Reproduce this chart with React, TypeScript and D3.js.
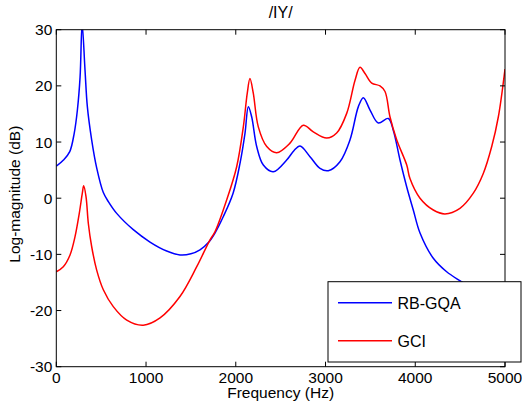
import * as d3 from 'd3';

// spectral envelopes of the vowel /IY/ (frequency in Hz, level in dB)
const freqBlue = [0, 80, 150, 200, 235, 265, 288, 320, 346, 394, 450, 524, 580, 673, 858, 1044, 1230, 1378, 1500, 1601, 1700, 1768, 1860, 1970, 2047, 2103, 2140, 2177, 2233, 2307, 2418, 2567, 2650, 2716, 2827, 2939, 3031, 3161, 3273, 3366, 3421, 3496, 3588, 3700, 3755, 3830, 3905, 3978, 4053, 4201, 4350, 4518, 4700, 4850, 5000];
const dbBlue = [5.7, 6.8, 8.3, 11.6, 15.7, 21.6, 31, 22.8, 16.3, 10.4, 5.4, 1.0, -0.6, -2.7, -5.6, -7.8, -9.4, -10.1, -9.9, -9.2, -7.8, -6.2, -3.3, 0.9, 6.2, 11.6, 16.3, 14.5, 9.2, 5.9, 4.7, 6.8, 8.5, 9.3, 7.4, 5.3, 4.9, 6.5, 10.4, 16.3, 17.9, 15.7, 13.4, 14.2, 12.1, 6.8, 2.0, -2.1, -6.2, -10.7, -13.1, -14.9, -16.8, -18.0, -19.0];

const freqRed = [0, 78, 153, 208, 256, 290, 305, 331, 357, 394, 450, 524, 635, 785, 969, 1156, 1378, 1565, 1713, 1768, 1899, 2010, 2084, 2128, 2158, 2195, 2251, 2345, 2456, 2604, 2752, 2864, 3013, 3124, 3236, 3329, 3384, 3440, 3515, 3607, 3663, 3718, 3793, 3905, 3941, 4053, 4201, 4331, 4498, 4647, 4758, 4852, 4926, 5000];
const dbRed = [-13.1, -12.2, -10.1, -6.9, -2.7, 0.9, 2.2, 0.3, -4.5, -8.6, -12.8, -16.3, -19.3, -21.7, -22.6, -21.3, -17.5, -12.2, -7.4, -6.0, -0.3, 5.6, 12.7, 18.7, 21.3, 18.7, 12.7, 9.2, 8.1, 9.8, 13.0, 11.8, 10.7, 11.6, 15.1, 21.0, 23.3, 22.2, 20.5, 20.0, 19.0, 14.5, 10.4, 5.9, 3.5, 0.0, -2.1, -2.8, -1.8, 0.9, 4.4, 9.2, 14.5, 23.0];

const xTicks = [0, 1000, 2000, 3000, 4000, 5000];
const yTicks = [-30, -20, -10, 0, 10, 20, 30];
const seriesNames = ['RB-GQA', 'GCI'];
const seriesColors = ['#0000ff', '#ff0000'];

const W = 522;
const H = 403;
const margin = { top: 29.7, right: 17, bottom: 36.3, left: 56.3 };
const font = 'Arial, "Liberation Sans", Helvetica, sans-serif';

export default function App() {
  const iw = W - margin.left - margin.right;
  const ih = H - margin.top - margin.bottom;

  const x = d3.scaleLinear().domain([0, 5000]).range([0, iw]);
  const y = d3.scaleLinear().domain([-30, 30]).range([ih, 0]);

  const line = d3.line<[number, number]>()
    .x(d => x(d[0]))
    .y(d => y(d[1]))
    .curve(d3.curveCatmullRom.alpha(0.5));

  const blue = line(freqBlue.map((f, i) => [f, dbBlue[i]]) as [number, number][]) || '';
  const red = line(freqRed.map((f, i) => [f, dbRed[i]]) as [number, number][]) || '';

  const tick = 5;
  // legend box, sits over the lower right corner of the axes
  const lg = { x: 328 - margin.left, y: 281.7 - margin.top, w: 193, h: 80.3 };

  return (
    <svg width={W} height={H} style={{ position: 'absolute', left: 0, top: 0, background: '#fff' }} fontFamily={font}>
      <defs>
        <clipPath id="plot-clip">
          <rect x={0} y={0} width={iw} height={ih} />
        </clipPath>
      </defs>
      <text x={margin.left + iw / 2} y={18} textAnchor="middle" fontSize={16}>/IY/</text>
      <g transform={`translate(${margin.left},${margin.top})`}>
        <g clipPath="url(#plot-clip)" fill="none" strokeWidth={1.5}>
          <path d={blue} stroke={seriesColors[0]} />
          <path d={red} stroke={seriesColors[1]} />
        </g>

        {/* axes box with inward ticks */}
        <rect x={0} y={0} width={iw} height={ih} fill="none" stroke="#000" strokeWidth={1} />
        {xTicks.map(t => (
          <g key={'x' + t}>
            <line x1={x(t)} x2={x(t)} y1={ih} y2={ih - tick} stroke="#000" />
            <line x1={x(t)} x2={x(t)} y1={0} y2={tick} stroke="#000" />
            <text x={x(t)} y={ih + 16.5} textAnchor="middle" fontSize={15.5}>{t}</text>
          </g>
        ))}
        {yTicks.map(t => (
          <g key={'y' + t}>
            <line x1={0} x2={tick} y1={y(t)} y2={y(t)} stroke="#000" />
            <line x1={iw} x2={iw - tick} y1={y(t)} y2={y(t)} stroke="#000" />
            <text x={-4} y={y(t) + 5.5} textAnchor="end" fontSize={15.5}>{t}</text>
          </g>
        ))}

        <g transform={`translate(${lg.x},${lg.y})`}>
          <rect x={0} y={0} width={lg.w} height={lg.h} fill="#fff" stroke="#000" strokeWidth={1} />
          {seriesNames.map((n, i) => (
            <g key={n} transform={`translate(0,${21 + i * 38})`}>
              <line x1={10} x2={64} y1={0} y2={0} stroke={seriesColors[i]} strokeWidth={1.5} />
              <text x={69.5} y={5.8} fontSize={16}>{n}</text>
            </g>
          ))}
        </g>
      </g>
      <text x={margin.left + iw / 2} y={398} textAnchor="middle" fontSize={15.5}>Frequency (Hz)</text>
      <text transform={`translate(20,${margin.top + ih / 2 - 4}) rotate(-90)`} textAnchor="middle" fontSize={15.5}>Log-magnitude (dB)</text>
    </svg>
  );
}
